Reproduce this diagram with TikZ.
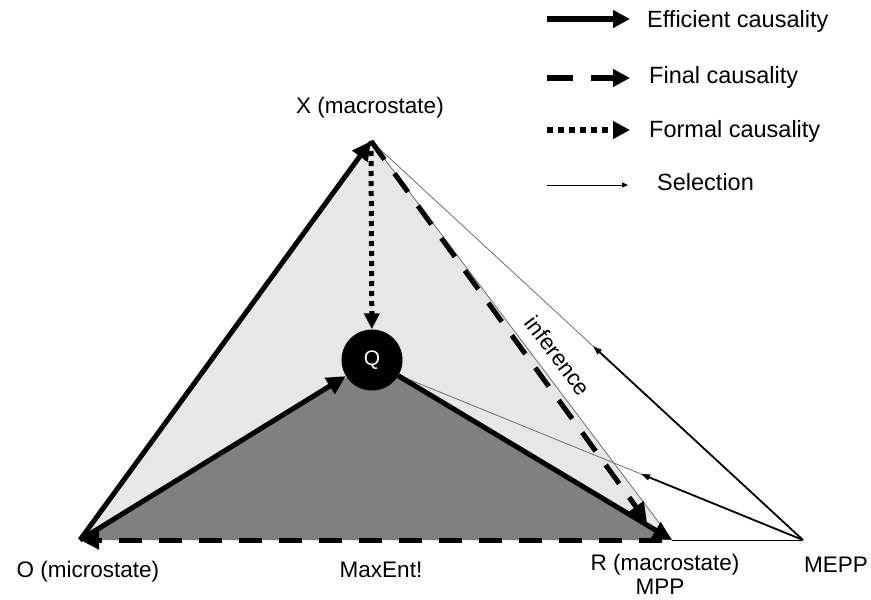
\documentclass[tikz,border=0pt]{standalone}
\usepackage{fontspec}
\setmainfont{Liberation Sans}
\usetikzlibrary{arrows.meta,calc}
\definecolor{lightfill}{RGB}{231,231,231}
\definecolor{darkfill}{RGB}{128,128,128}
\definecolor{thingray}{RGB}{110,110,110}
\begin{document}
\begin{tikzpicture}[x=1pt,y=-1pt,
  lbl/.style={font=\fontsize{22.5}{26}\selectfont, inner sep=0pt, anchor=base},
  leglbl/.style={font=\fontsize{23.5}{27}\selectfont, inner sep=0pt, anchor=base west},
  effarrow/.style={line width=5pt, -{Triangle[length=19pt,width=18pt]}},
  finarrow/.style={line width=5pt, dash pattern=on 23pt off 17pt, -{Triangle[length=19pt,width=18pt]}},
  formarrow/.style={line width=5pt, dash pattern=on 5pt off 5pt, -{Triangle[length=16pt,width=15pt]}},
  selarrow/.style={line width=1.8pt, -{Triangle[length=9pt,width=6pt]}},
  thinline/.style={line width=0.8pt, draw=thingray},
  qnode/.style={circle, fill=black, minimum size=61pt, inner sep=0pt, text=white, font=\fontsize{21}{24}\selectfont}
]
\useasboundingbox (0,0) rectangle (871,600);

% vertices
\coordinate (O) at (80,540);
\coordinate (X) at (371,141);
\coordinate (R) at (672,540);
\coordinate (M) at (803,540);
\coordinate (Rs) at (662,540);
\coordinate (XR) at (647,522);
\coordinate (Qe) at (398,375);

% fills
\fill[lightfill] (O) -- (X) -- (R) -- cycle;
\fill[darkfill] (O) -- (372,362) -- (R) -- cycle;

% thin lines
\draw[thinline] (X) -- (R);
\draw[thinline] (X) -- (M);
\draw[thinline] (Qe) -- (M);
\draw[line width=0.8pt] (R) -- (M);

% Q node
\node[qnode] (Q) at (372,360) {Q};

% selection arrows
\coordinate (S1) at ($(M)!0.486!(X)$);
\coordinate (S2) at ($(M)!0.40!(Qe)$);
\draw[selarrow] (M) -- (S1);
\draw[selarrow] (M) -- (S2);

% causal arrows
\draw[effarrow] (O) -- (X);
\draw[effarrow] (O) -- (Q);
\draw[effarrow] (Q) -- (R);
\draw[finarrow] (X) -- (XR);
\draw[finarrow] (Rs) -- (O);
\draw[formarrow] (X) -- (Q);

% labels
\node[lbl] (lX) at (370,113) {X (macrostate)};
\node[lbl] (lO) at (88,577) {O (microstate)};
\node[lbl] (lMax) at (381,577) {MaxEnt!};
\node[lbl] (lR) at (665,570) {R (macrostate)};
\node[lbl] (lMPP) at (660,594) {MPP};
\node[lbl] (lMEPP) at (836,572) {MEPP};
\node[lbl, anchor=center, rotate=-53] (linf) at (558,356) {inference};

% legend
\coordinate (a1) at (547,19);  \coordinate (b1) at (630,19);
\coordinate (a2) at (547,78);  \coordinate (b2) at (630,78);
\coordinate (a3) at (547,130); \coordinate (b3) at (630,130);
\coordinate (a4) at (547,185); \coordinate (b4) at (628,185);
\draw[line width=6pt, -{Triangle[length=17pt,width=17pt]}] (a1) -- (b1);
\draw[line width=6pt, dash pattern=on 26pt off 18pt, -{Triangle[length=17pt,width=17pt]}] (a2) -- (b2);
\draw[line width=6pt, dash pattern=on 6pt off 5pt, -{Triangle[length=17pt,width=17pt]}] (a3) -- (b3);
\draw[line width=1pt, -{Triangle[length=6pt,width=5pt]}] (a4) -- (b4);
\node[leglbl] (t1) at (647,27) {Efficient causality};
\node[leglbl] (t2) at (649,83) {Final causality};
\node[leglbl] (t3) at (649,137) {Formal causality};
\node[leglbl] (t4) at (657,190) {Selection};
\end{tikzpicture}
\end{document}
